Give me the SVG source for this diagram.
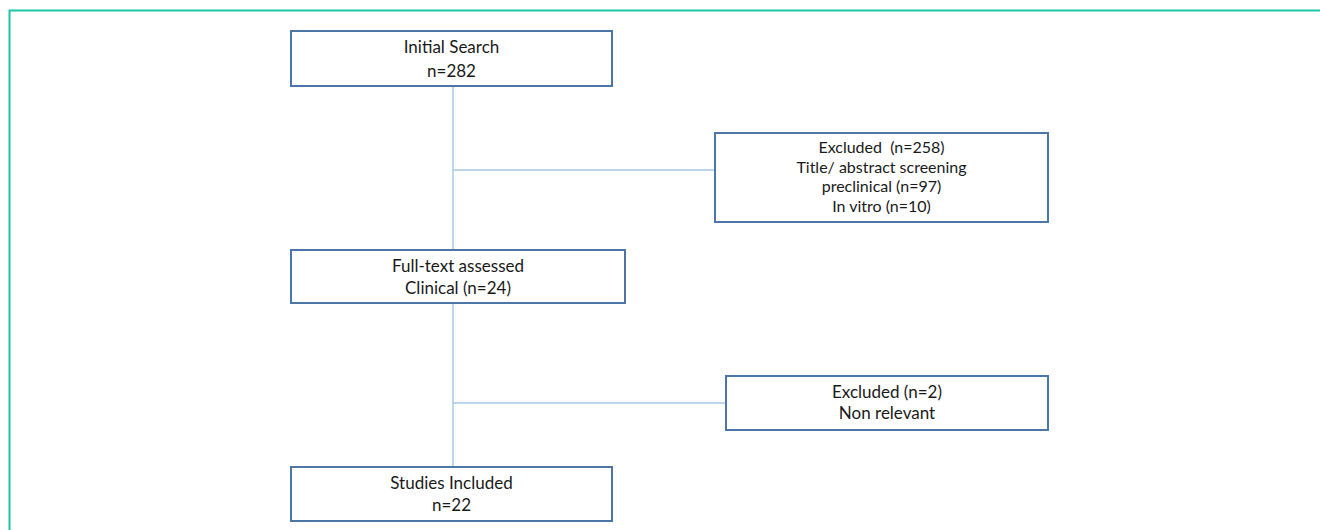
<svg xmlns="http://www.w3.org/2000/svg" width="1320" height="530" viewBox="0 0 1320 530">
<style>
.box{fill:#fff;stroke:#4a76a8;stroke-width:2}
.t{font-family:Lato,"Liberation Sans",Arial,sans-serif;font-size:17px;fill:#1a1a1a;text-anchor:middle;white-space:pre}
.s{font-size:16px}
.c{stroke:#a9c8e4;stroke-width:1.5;fill:none}
</style>
<rect x="0" y="0" width="1320" height="530" fill="#fff"/>
<path d="M9.5 530 V10.5 H1320" fill="none" stroke="#1cc4a8" stroke-width="2"/>
<g id="connectors">
<line class="c" x1="453" y1="86" x2="453" y2="467"/>
<line class="c" x1="453" y1="170" x2="715" y2="170"/>
<line class="c" x1="453" y1="403" x2="726" y2="403"/>
</g>
<g id="initial">
<rect class="box" x="291" y="31" width="321" height="55"/>
<text class="t" x="451.5" y="53">Initial Search</text>
<text class="t" x="451.5" y="77">n=282</text>
</g>
<g id="excluded1">
<rect class="box" x="715" y="133" width="333" height="89"/>
<text class="t s" x="881.5" y="153" xml:space="preserve">Excluded  (n=258)</text>
<text class="t s" x="881.5" y="173">Title/ abstract screening</text>
<text class="t s" x="881.5" y="192">preclinical (n=97)</text>
<text class="t s" x="881.5" y="212">In vitro (n=10)</text>
</g>
<g id="fulltext">
<rect class="box" x="291" y="250" width="334" height="53"/>
<text class="t" x="458" y="272">Full-text assessed</text>
<text class="t" x="458" y="294">Clinical (n=24)</text>
</g>
<g id="excluded2">
<rect class="box" x="726" y="376" width="322" height="54"/>
<text class="t" x="887" y="398">Excluded (n=2)</text>
<text class="t" x="887" y="419">Non relevant</text>
</g>
<g id="included">
<rect class="box" x="291" y="467" width="321" height="54"/>
<text class="t" x="451.5" y="489">Studies Included</text>
<text class="t" x="451.5" y="511">n=22</text>
</g>
</svg>
